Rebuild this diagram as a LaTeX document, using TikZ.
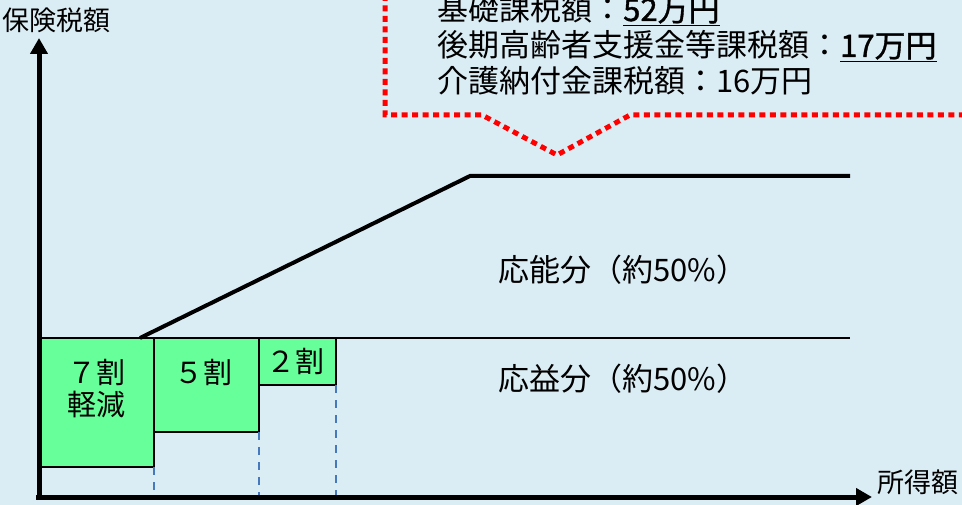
\documentclass[tikz,border=0pt]{standalone}
\usepackage{fontspec}
\setmainfont{Noto Sans CJK JP}
\newfontfamily\jp{Noto Sans CJK JP}
\newfontfamily\jpb[FakeBold=1.2]{Noto Sans CJK JP}
\usetikzlibrary{arrows.meta}
\definecolor{bg}{RGB}{219,237,244}
\definecolor{boxg}{RGB}{102,255,153}
\definecolor{dashb}{RGB}{70,120,190}
\begin{document}
\begin{tikzpicture}[x=1pt,y=-1pt,
  axis/.style={line width=5pt,-{Triangle[length=16pt,width=17pt]}},
  gbox/.style={draw=black,line width=2pt,fill=boxg},
  guide/.style={dashb,line width=2.5pt,dash pattern=on 8pt off 7pt},
  curve/.style={line width=4pt,black},
  callout/.style={red,line width=5pt,dash pattern=on 6pt off 4.5pt},
  lbl/.style={inner sep=0pt,font=\jp\fontsize{31}{36}\selectfont},
  boxlbl/.style={inner sep=0pt,font=\jp\fontsize{29}{32}\selectfont},
  axlbl/.style={inner sep=0pt,font=\jp\fontsize{27}{30}\selectfont}]
\fill[bg] (0,0) rectangle (962,505);
\useasboundingbox (0,0) rectangle (962,505);

% callout
\coordinate (c0) at (385,-5);
\coordinate (c1) at (385,115);
\coordinate (c2) at (482,115);
\coordinate (ctip) at (557,155);
\coordinate (c3) at (630,115);
\coordinate (c4) at (970,115);
\draw[callout] (c0) -- (c1) -- (c2) -- (ctip) -- (c3) -- (c4);
\node[lbl,anchor=base west] (t1) at (437,21) {基礎課税額：\underline{{\jpb 52万円}}};
\node[lbl,anchor=base west] (t2) at (437,57) {後期高齢者支援金等課税額：\underline{{\jpb 17万円}}};
\node[lbl,anchor=base west] (t3) at (437,93) {介護納付金課税額：16万円};

% boxes
\draw[gbox] (40,338) rectangle (154,467);
\draw[gbox] (154,338) rectangle (259,432);
\draw[gbox] (259,338) rectangle (336,385);
\coordinate (b7) at (154,467);
\coordinate (b5) at (259,432);
\coordinate (b2) at (336,385);
\node[boxlbl] (l7) at (96,372) {７割};
\node[boxlbl] (l7b) at (96,404) {軽減};
\node[boxlbl] (l5) at (203,372) {５割};
\node[boxlbl] (l2) at (295,361) {２割};

% guides
\coordinate (o) at (39,497);
\draw[guide] (b7) -- (b7 |- o);
\draw[guide] (b5) -- (b5 |- o);
\draw[guide] (b2) -- (b2 |- o);

% division line and tax curve
\coordinate (d0) at (40,338);
\coordinate (d1) at (850,338);
\draw[line width=1.3pt] (d0) -- (d1);
\coordinate (k0) at (140,338);
\coordinate (k1) at (470,176);
\coordinate (k2) at (850,176);
\draw[curve] (k0) -- (k1) -- (k2);

\node[lbl,anchor=base west] (p1) at (498,282) {応能分（約50\%）};
\node[lbl,anchor=base west] (p2) at (498,390) {応益分（約50\%）};

% axes
\coordinate (ybot) at (39,500);
\coordinate (ytop) at (39,38);
\coordinate (xl) at (36,497);
\coordinate (xr) at (872,497);
\draw[axis] (ybot) -- (ytop);
\draw[axis] (xl) -- (xr);
\node[axlbl,anchor=base west] (ya) at (2,31) {保険税額};
\node[axlbl,anchor=base west] (xa) at (877,492) {所得額};
\end{tikzpicture}
\end{document}
